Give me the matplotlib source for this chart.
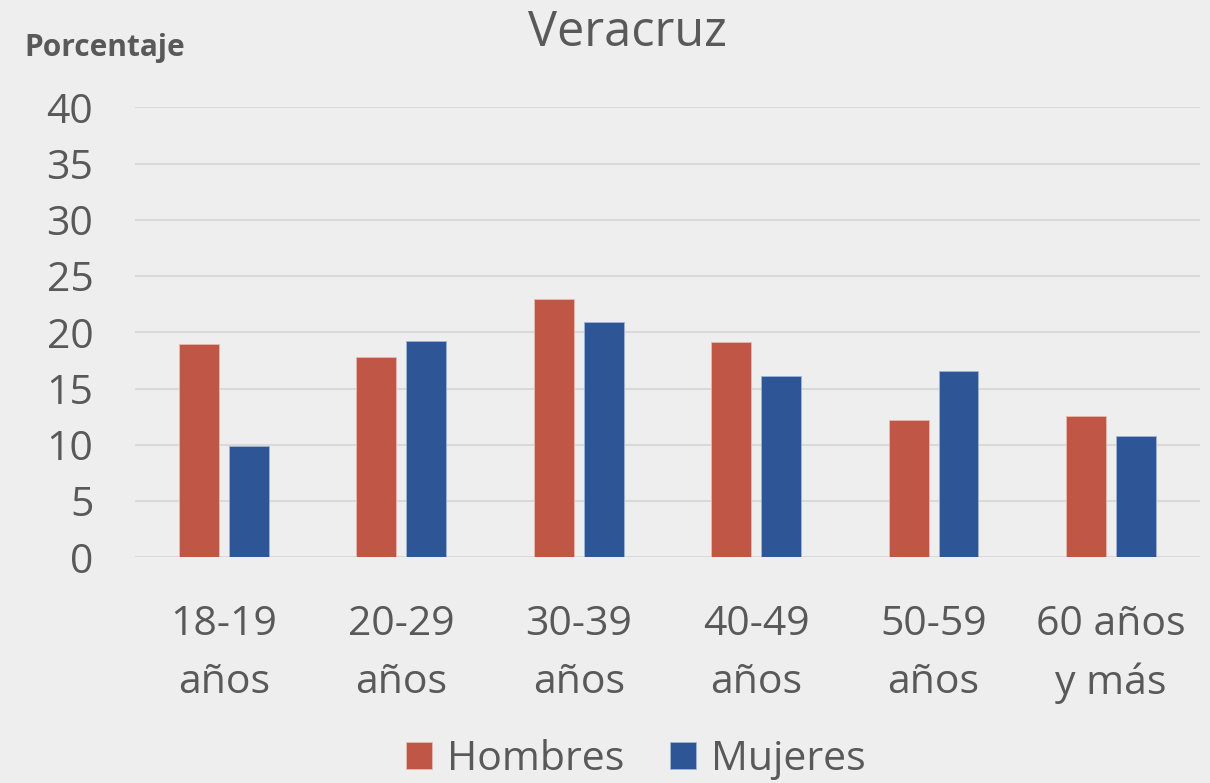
import matplotlib.pyplot as plt
import numpy as np

# data
categorias = ['18-19\naños', '20-29\naños', '30-39\naños', '40-49\naños', '50-59\naños', '60 años\ny más']
hombres = [19.0, 17.8, 23.0, 19.1, 12.2, 12.6]
mujeres = [9.9, 19.2, 20.9, 16.1, 16.6, 10.8]
yticks = [0, 5, 10, 15, 20, 25, 30, 35, 40]

rojo = '#C05746'
azul = '#2E5596'
gris_txt = '#595959'

plt.rcParams['font.family'] = ['Open Sans', 'DejaVu Sans']

fig = plt.figure(figsize=(12.1, 7.83), dpi=100)
fig.patch.set_facecolor('#eeeeee')
ax = fig.add_axes([0.1116, 0.2883, 0.880, 0.5747])
ax.set_facecolor('none')

x = np.arange(len(categorias))
w = 0.225
ax.bar(x - 0.14, hombres, w, color=rojo, edgecolor='#e8b8b0', linewidth=0.6, label='Hombres', zorder=3)
ax.bar(x + 0.14, mujeres, w, color=azul, edgecolor='#9fb3d6', linewidth=0.6, label='Mujeres', zorder=3)

ax.set_xlim(-0.5, len(categorias) - 0.5)
ax.set_ylim(0, 40)
ax.set_yticks(yticks)
ax.yaxis.grid(True, color='#d9d9d9', linewidth=1.5, zorder=0)
ax.set_axisbelow(True)
for s in ax.spines.values():
    s.set_visible(False)
ax.tick_params(axis='y', length=0, pad=30, labelsize=29.5, labelcolor=gris_txt)
ax.set_xticks(x)
ax.set_xticklabels(categorias, linespacing=1.56)
ax.tick_params(axis='x', length=0, pad=34, labelsize=29.5, labelcolor=gris_txt)

fig.text(627 / 1210, 1 - 33 / 783, 'Veracruz', ha='center', va='center', fontsize=35, color=gris_txt)
fig.text(24 / 1210, 1 - 48 / 783, 'Porcentaje', ha='left', va='center', fontsize=21.5,
         fontweight='bold', color=gris_txt)

leg = fig.legend(loc='center', bbox_to_anchor=(636 / 1210, 1 - 760 / 783), ncol=2, frameon=False,
                 fontsize=29.5, handlelength=0.63, handleheight=0.63, handletextpad=0.37,
                 columnspacing=1.1, borderpad=0)
for t in leg.get_texts():
    t.set_color(gris_txt)

fig.savefig('out.png', dpi=100, facecolor=fig.get_facecolor())
